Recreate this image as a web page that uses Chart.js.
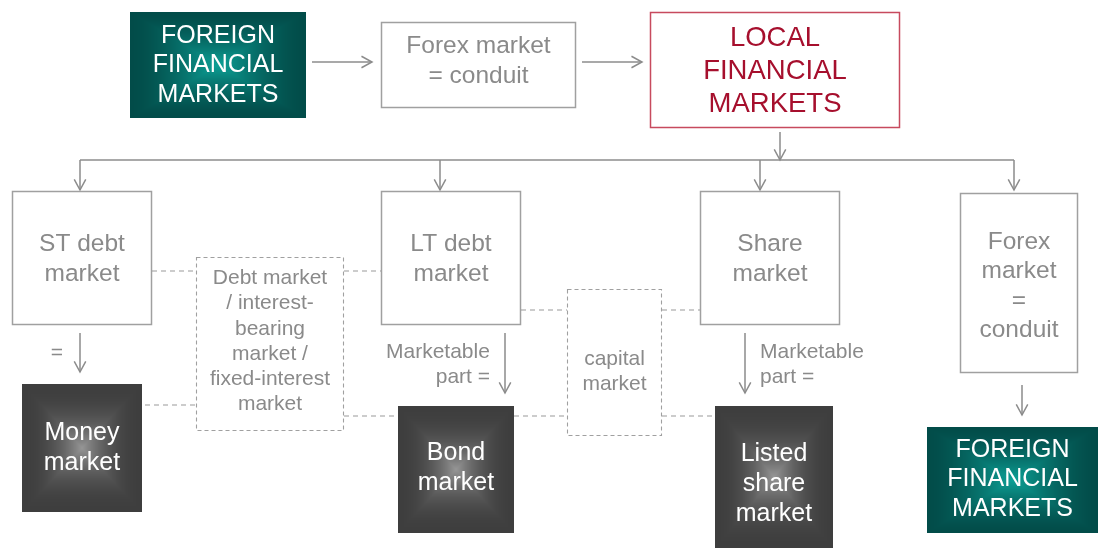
<!DOCTYPE html>
<html>
<head>
<meta charset="utf-8">
<script src="https://cdn.jsdelivr.net/npm/chart.js@4"></script>
<style>
  html, body { margin: 0; padding: 0; background: #fff; }
  #wrap { width: 1098px; height: 548px; position: relative; }
</style>
</head>
<body>
<div id="wrap"><canvas id="diagram"></canvas></div>
<script>
// Diagram data (units = diagram space, 0..1098 x 0..548, y downwards)
const nodeLabels = [
    ['FOREIGN', 'FINANCIAL', 'MARKETS'],
    ['Forex market', '= conduit'],
    ['LOCAL', 'FINANCIAL', 'MARKETS'],
    ['ST debt', 'market'],
    ['LT debt', 'market'],
    ['Share', 'market'],
    ['Forex', 'market', '=', 'conduit'],
    ['Debt market', '/ interest-', 'bearing', 'market /', 'fixed-interest', 'market'],
    ['capital', 'market'],
    ['Money', 'market'],
    ['Bond', 'market'],
    ['Listed', 'share', 'market'],
    ['FOREIGN', 'FINANCIAL', 'MARKETS']
];
const nodeKinds = ['teal', 'plain', 'local', 'plain', 'plain', 'plain', 'plain', 'dashed', 'dashed', 'dark', 'dark', 'dark', 'teal'];
const nodeX = [130, 381, 650, 12, 381, 700, 960, 196, 567, 22, 398, 715, 927];
const nodeY = [12, 22, 12, 191, 191, 191, 193, 257, 289, 384, 406, 406, 427];
const nodeW = [176, 195, 250, 140, 140, 140, 118, 148, 95, 120, 116, 118, 171];
const nodeH = [106, 86, 116, 134, 134, 134, 180, 174, 147, 128, 127, 142, 106];
const nodeTextY = [64, 59.5, 70, 257.5, 257.5, 257.5, 284.5, 340, 370.5, 446.5, 467, 482.5, 478];

// connectors: [x1, y1, x2, y2]
const arrowLinks = [
    [312, 62, 372, 62],
    [582, 62, 642, 62],
    [780, 132, 780, 160],
    [80, 160, 80, 190],
    [440, 160, 440, 190],
    [760, 160, 760, 190],
    [1014, 160, 1014, 190],
    [80, 333, 80, 372],
    [505, 333, 505, 393],
    [745, 333, 745, 393],
    [1022, 385, 1022, 415]
];
const plainLinks = [
    [80, 160, 1014, 160]
];
const dashedLinks = [
    [152, 271, 196, 271],
    [344, 271, 381, 271],
    [145, 405, 196, 405],
    [344, 416, 398, 416],
    [514, 416, 567, 416],
    [521, 310, 567, 310],
    [662, 310, 700, 310],
    [662, 416, 715, 416]
];

// free labels next to arrows
const noteTexts = ['=', 'Marketable', 'part =', 'Marketable', 'part ='];
const noteX = [57, 386, 490, 760, 760];
const noteY = [352, 351, 376, 351, 376];
const noteAlign = ['center', 'left', 'right', 'left', 'left'];

const FONT = '"Liberation Sans", Arial, sans-serif';
const GREY_TEXT = '#8a8a8a';
const GREY_LINE = '#999999';
const TEXT_NUDGE = 1.5; // canvas 'middle' sits a bit high for Arial caps

const kindStyles = {
    teal:   { size: 25, lh: 29.5, color: '#ffffff', inner: [12, 160, 150], outer: [2, 76, 73], power: 1.6 },
    dark:   { size: 25, lh: 30, color: '#ffffff', inner: [150, 150, 150], outer: [62, 62, 62], power: 2.2 },
    plain:  { size: 24.5, lh: 29.5, color: GREY_TEXT, border: '#a0a0a0' },
    local:  { size: 27.5, lh: 33, color: '#a60f2d', border: '#c74a5e' },
    dashed: { size: 21, lh: 25.2, color: GREY_TEXT, border: '#a0a0a0' }
};

function toPoints(link) {
    return [{ x: link[0], y: link[1] }, { x: link[2], y: link[3] }];
}

const datasets = [];
arrowLinks.forEach(l => datasets.push({ data: toPoints(l), borderColor: '#8c8c8c', borderWidth: 1.5, arrow: true }));
plainLinks.forEach(l => datasets.push({ data: toPoints(l), borderColor: '#8c8c8c', borderWidth: 1.5 }));
dashedLinks.forEach(l => datasets.push({ data: toPoints(l), borderColor: GREY_LINE, borderWidth: 1.2, borderDash: [5, 4] }));
datasets.forEach(d => { d.showLine = true; d.pointRadius = 0; d.fill = false; });

// rectangular "path" gradient, shaded by the max-norm distance from the centre
function pathGradientRect(ctx, x, y, w, h, st) {
    const W = Math.round(w), H = Math.round(h);
    const off = document.createElement('canvas');
    off.width = W; off.height = H;
    const octx = off.getContext('2d');
    const img = octx.createImageData(W, H);
    const hx = W / 2, hy = H / 2;
    for (let j = 0; j < H; j++) {
        for (let i = 0; i < W; i++) {
            const t = Math.max(Math.abs(i + 0.5 - hx) / hx, Math.abs(j + 0.5 - hy) / hy);
            const k = Math.pow(1 - Math.min(t, 1), st.power);
            const p = (j * W + i) * 4;
            for (let c = 0; c < 3; c++) img.data[p + c] = st.outer[c] + (st.inner[c] - st.outer[c]) * k;
            img.data[p + 3] = 255;
        }
    }
    octx.putImageData(img, 0, 0);
    ctx.drawImage(off, Math.round(x), Math.round(y));
}

const diagramPlugin = {
    id: 'diagram',
    afterDatasetsDraw(chart) {
        const ctx = chart.ctx;
        const sx = chart.scales.x, sy = chart.scales.y;
        const px = v => sx.getPixelForValue(v);
        const py = v => sy.getPixelForValue(v);

        ctx.save();
        // arrow heads
        chart.data.datasets.forEach(ds => {
            if (!ds.arrow) return;
            const a = ds.data[0], b = ds.data[1];
            const x1 = px(a.x), y1 = py(a.y), x2 = px(b.x), y2 = py(b.y);
            const ang = Math.atan2(y2 - y1, x2 - x1);
            const len = 12, spread = 0.5;
            ctx.strokeStyle = ds.borderColor;
            ctx.lineWidth = 1.5;
            ctx.beginPath();
            ctx.moveTo(x2 - len * Math.cos(ang - spread), y2 - len * Math.sin(ang - spread));
            ctx.lineTo(x2, y2);
            ctx.lineTo(x2 - len * Math.cos(ang + spread), y2 - len * Math.sin(ang + spread));
            ctx.stroke();
        });

        // boxes
        nodeLabels.forEach((lines, i) => {
            const st = kindStyles[nodeKinds[i]];
            const x = px(nodeX[i]), y = py(nodeY[i]);
            const w = px(nodeX[i] + nodeW[i]) - x, h = py(nodeY[i] + nodeH[i]) - y;
            const kind = nodeKinds[i];
            if (kind === 'teal' || kind === 'dark') {
                pathGradientRect(ctx, x, y, w, h, st);
            } else {
                ctx.fillStyle = '#ffffff';
                ctx.fillRect(x, y, w, h);
                ctx.strokeStyle = st.border;
                ctx.lineWidth = kind === 'dashed' ? 1.1 : 1.5;
                ctx.setLineDash(kind === 'dashed' ? [4, 3] : []);
                ctx.strokeRect(x + 0.5, y + 0.5, w - 1, h - 1);
                ctx.setLineDash([]);
            }
            ctx.fillStyle = st.color;
            ctx.font = st.size + 'px ' + FONT;
            ctx.textAlign = 'center';
            ctx.textBaseline = 'middle';
            const cx = x + w / 2;
            const top = py(nodeTextY[i]) + TEXT_NUDGE - (lines.length - 1) * st.lh / 2;
            lines.forEach((t, k) => ctx.fillText(t, cx, top + k * st.lh));
        });

        // notes
        ctx.fillStyle = GREY_TEXT;
        ctx.font = '21px ' + FONT;
        ctx.textBaseline = 'middle';
        noteTexts.forEach((t, i) => {
            ctx.textAlign = noteAlign[i];
            ctx.fillText(t, px(noteX[i]), py(noteY[i]) + TEXT_NUDGE);
        });
        ctx.restore();
    }
};

new Chart(document.getElementById('diagram'), {
    type: 'scatter',
    data: { datasets: datasets },
    options: {
        responsive: true,
        maintainAspectRatio: false,
        animation: false,
        layout: { padding: 0 },
        plugins: { legend: { display: false }, tooltip: { enabled: false } },
        scales: {
            x: { type: 'linear', min: 0, max: 1098, display: false },
            y: { type: 'linear', min: 0, max: 548, reverse: true, display: false }
        }
    },
    plugins: [diagramPlugin]
});
</script>
</body>
</html>
